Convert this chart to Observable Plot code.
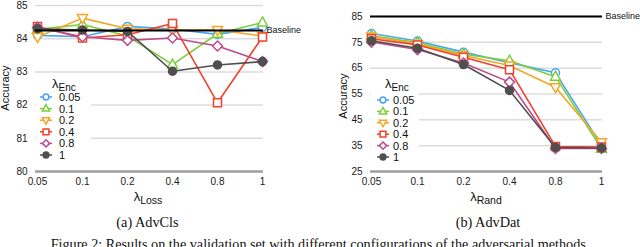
<!DOCTYPE html>
<html><head><meta charset="utf-8">
<script src="https://cdn.jsdelivr.net/npm/d3@7"></script>
<script src="https://cdn.jsdelivr.net/npm/@observablehq/plot@0.6"></script>
<style>
body{margin:0;background:#fff;}
#fig{position:relative;width:640px;height:247px;overflow:hidden;background:#fff;}
#fig > div{position:absolute;top:0;}
#overlay{position:absolute;left:0;top:0;}
</style></head><body><div id="fig"><div id="left" style="left:0"></div><div id="right" style="left:320px"></div></div>
<script>
// ---- data ----
const xLabels = ["0.05", "0.1", "0.2", "0.4", "0.8", "1"];
const encLabels = ["0.05", "0.1", "0.2", "0.4", "0.8", "1"];
const colors = ["#45a5f6", "#7ccf3b", "#f5a623", "#f5402a", "#bd4a8d", "#4f4f4f"];
const symbolKinds = ["circle", "triangleUp", "triangleDown", "square", "diamond", "circle"];
const filled = [false, false, false, false, false, true];

const advClsTicks = [80, 81, 82, 83, 84, 85];
const advClsBaseline = 84.25;
const advCls005 = [84.10, 84.06, 84.37, 84.29, 84.13, 84.34];
const advCls01  = [84.28, 84.43, 84.08, 83.22, 84.15, 84.49];
const advCls02  = [84.05, 84.62, 84.30, 84.26, 84.26, 84.08];
const advCls04  = [84.37, 84.02, 84.12, 84.46, 82.07, 84.05];
const advCls08  = [84.34, 84.06, 83.95, 84.02, 83.78, 83.31];
const advCls1   = [84.30, 84.26, 84.22, 83.02, 83.21, 83.31];

const advDatTicks = [25, 35, 45, 55, 65, 75, 85];
const advDatBaseline = 85;
const advDat005 = [78.4, 75.5, 71.2, 67.1, 63.2, 35.1];
const advDat01  = [77.5, 74.9, 70.4, 67.9, 61.7, 33.8];
const advDat02  = [77.2, 74.4, 69.9, 66.0, 57.6, 36.3];
const advDat04  = [76.4, 74.0, 69.2, 64.4, 34.7, 34.5];
const advDat08  = [75.1, 72.2, 67.0, 59.6, 33.9, 33.9];
const advDat1   = [75.6, 72.7, 66.4, 56.4, 34.3, 34.1];

const advClsSeries = [advCls005, advCls01, advCls02, advCls04, advCls08, advCls1];
const advDatSeries = [advDat005, advDat01, advDat02, advDat04, advDat08, advDat1];

// ---- symbols ----
function makeSymbol(kind, s) {
  return {draw(ctx) {
    switch (kind) {
      case "circle": ctx.moveTo(4 * s, 0); ctx.arc(0, 0, 4 * s, 0, 2 * Math.PI); break;
      case "triangleUp": ctx.moveTo(0, -5.5 * s); ctx.lineTo(5 * s, 3.5 * s); ctx.lineTo(-5 * s, 3.5 * s); ctx.closePath(); break;
      case "triangleDown": ctx.moveTo(0, 5.5 * s); ctx.lineTo(5 * s, -3.5 * s); ctx.lineTo(-5 * s, -3.5 * s); ctx.closePath(); break;
      case "square": ctx.rect(-4 * s, -4 * s, 8 * s, 8 * s); break;
      case "diamond": ctx.moveTo(0, -5 * s); ctx.lineTo(5 * s, 0); ctx.lineTo(0, 5 * s); ctx.lineTo(-5 * s, 0); ctx.closePath(); break;
    }
  }};
}

const FONT = "'Liberation Sans', Arial, Helvetica, sans-serif";

function panel(series, ticks, baseline, opts) {
  const marks = [
    Plot.ruleY(ticks.slice(1), {stroke: "#dcdcdc", strokeWidth: 1.5}),
    Plot.ruleY([ticks[0]], {stroke: "#9d9d9d", strokeWidth: 2.5}),
    Plot.axisX({tickSize: 0, tickPadding: 6, label: null, fontSize: 10}),
    Plot.axisY({ticks, tickSize: 0, tickPadding: 8, label: null, fontSize: 10, tickFormat: d => String(d)})
  ];
  series.forEach((vals, i) => {
    const data = xLabels.map((x, j) => ({x, y: vals[j]}));
    marks.push(Plot.line(data, {x: "x", y: "y", stroke: colors[i], strokeWidth: 1.6}));
    marks.push(Plot.dot(data, {x: "x", y: "y", stroke: colors[i], fill: filled[i] ? colors[i] : "white",
      symbol: makeSymbol(symbolKinds[i], 1), r: 4, strokeWidth: 1.5}));
  });
  marks.push(Plot.ruleY([baseline], {stroke: "#000", strokeWidth: 2}));
  marks.push(Plot.text([baseline], {x: () => xLabels[xLabels.length - 1], y: d => d, text: () => "Baseline",
    textAnchor: "start", dx: 4, fontSize: 9, fill: "#111"}));
  return Plot.plot({
    width: 320, height: 206,
    marginLeft: opts.marginLeft, marginRight: opts.marginRight, marginTop: opts.marginTop, marginBottom: 35,
    x: {type: "point", domain: xLabels, padding: 0},
    y: {domain: [ticks[0], ticks[ticks.length - 1]]},
    style: {fontFamily: FONT, fontSize: "10px", color: "#1a1a1a", background: "transparent", overflow: "visible"},
    marks
  });
}

document.getElementById("left").appendChild(panel(advClsSeries, advClsTicks, advClsBaseline, {marginLeft: 35, marginRight: 57, marginTop: 5}));
document.getElementById("right").appendChild(panel(advDatSeries, advDatTicks, advDatBaseline, {marginLeft: 50, marginRight: 38, marginTop: 16}));

// ---- overlay: legends, axis titles, captions ----
const svg = d3.select("#fig").append("svg").attr("id", "overlay").attr("width", 640).attr("height", 247)
  .style("font-family", FONT);

function legend(bx, by, bw, bh, titleX, titleY, markX, textX, rowY0, step) {
  const g = svg.append("g");
  g.append("rect").attr("x", bx).attr("y", by).attr("width", bw).attr("height", bh).attr("fill", "#fff");
  const t = g.append("text").attr("x", titleX).attr("y", titleY).attr("fill", "#111");
  t.append("tspan").attr("font-size", 13).text("λ");
  t.append("tspan").attr("font-size", 10).attr("dy", 2.5).text("Enc");
  encLabels.forEach((lab, i) => {
    const y = rowY0 + i * step;
    g.append("line").attr("x1", markX - 6).attr("x2", markX + 6).attr("y1", y).attr("y2", y)
      .attr("stroke", colors[i]).attr("stroke-width", 1.5);
    const p = d3.path();
    makeSymbol(symbolKinds[i], 0.72).draw(p);
    g.append("path").attr("d", p.toString()).attr("transform", `translate(${markX},${y})`)
      .attr("stroke", colors[i]).attr("stroke-width", 1.5).attr("fill", filled[i] ? colors[i] : "#fff");
    g.append("text").attr("x", textX).attr("y", y + 4).attr("font-size", 11).attr("fill", "#111").text(lab);
  });
}
legend(36, 77, 55, 86, 52, 88, 46, 59, 97, 11.6);
legend(371, 78, 48, 86, 385, 88, 383, 393, 100, 11.4);

function axisTitle(x, y, main, sub) {
  const t = svg.append("text").attr("x", x).attr("y", y).attr("text-anchor", "middle").attr("fill", "#111");
  t.append("tspan").attr("font-size", 13).text(main);
  t.append("tspan").attr("font-size", 10.5).attr("dy", 3).text(sub);
}
axisTitle(148, 201, "λ", "Loss");
axisTitle(486, 201, "λ", "Rand");

svg.append("text").attr("transform", "translate(9,88) rotate(-90)").attr("text-anchor", "middle")
  .attr("font-size", 11).attr("fill", "#111").text("Accuracy");
svg.append("text").attr("transform", "translate(347,96) rotate(-90)").attr("text-anchor", "middle")
  .attr("font-size", 11).attr("fill", "#111").text("Accuracy");

const SERIF = "'Liberation Serif', 'Times New Roman', serif";
svg.append("text").attr("x", 147.5).attr("y", 226.5).attr("text-anchor", "middle").attr("font-family", SERIF)
  .attr("font-size", 14.3).attr("fill", "#111").text("(a) AdvCls");
svg.append("text").attr("x", 488).attr("y", 226.5).attr("text-anchor", "middle").attr("font-family", SERIF)
  .attr("font-size", 14.3).attr("fill", "#111").text("(b) AdvDat");
svg.append("text").attr("x", 320).attr("y", 248.5).attr("text-anchor", "middle").attr("font-family", SERIF)
  .attr("font-size", 14.2).attr("fill", "#111")
  .text("Figure 2: Results on the validation set with different configurations of the adversarial methods.");
</script></body></html>
